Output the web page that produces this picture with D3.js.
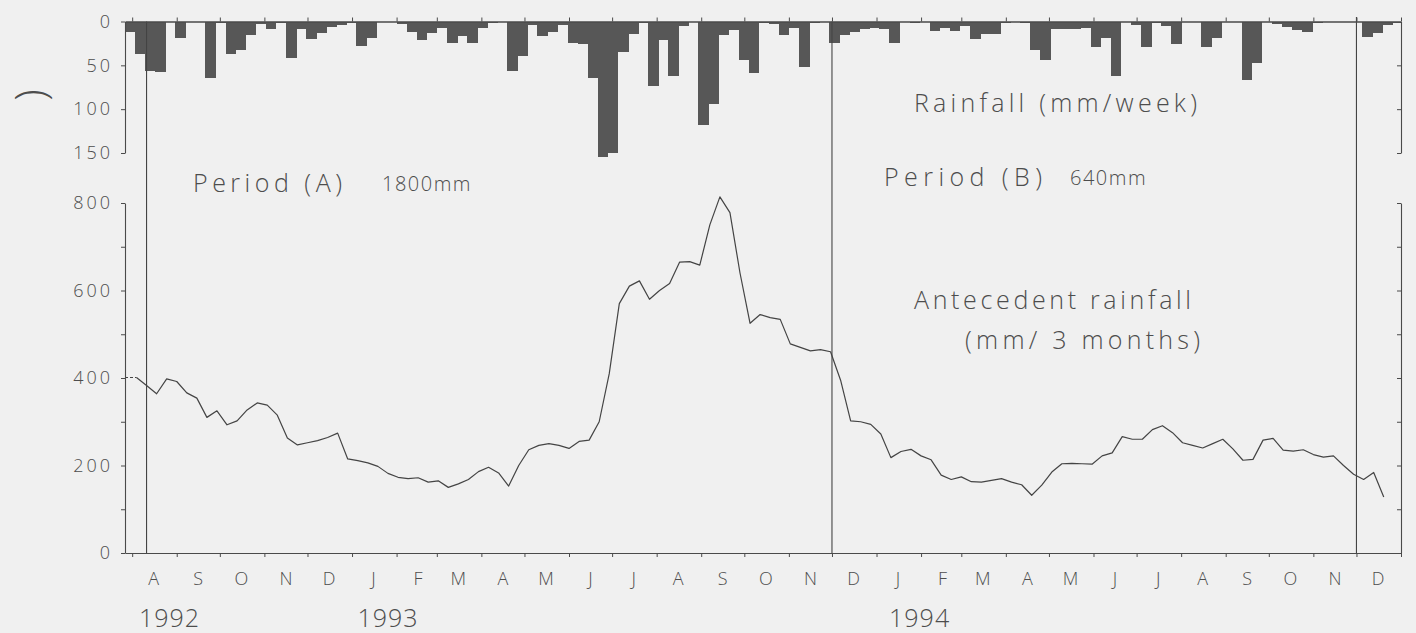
<!DOCTYPE html>
<html><head><meta charset="utf-8">
<script src="https://cdn.jsdelivr.net/npm/d3@7"></script>
<style>
html,body{margin:0;padding:0;background:#f0f0f0;}
svg{display:block;}
text{font-family:"Open Sans",Lato,"DejaVu Sans",sans-serif;font-weight:300;fill:#4d4d4d;}
</style></head><body>
<svg id="c" width="1416" height="633"></svg>
<script>
// Weekly rainfall (mm/week), weeks starting 27 Jul 1992
const weeklyRain = [12,37,57,58,0,19,1,1,64,2,37,33,15,3,8,2,42,8,20,13,6,4,2,28,19,1,0,3,12,21,
  13,7,25,17,25,7,2,1,57,39,4,16,12,4,25,26,64,154,150,35,14,2,74,21,62,5,1,118,94,15,
  10,44,59,2,3,15,7,52,2,0,24,15,12,9,7,8,24,1,2,1,11,7,11,5,20,14,14,2,1,2,
  32,44,8,9,9,7,29,19,62,1,4,29,2,5,26,1,1,29,19,1,1,67,47,1,3,6,10,12,2,1,
  1,1,1,18,13,4,2];
// Antecedent rainfall (mm / 3 months), weekly values from 28 Jul 1992
const antecedent = [401,401,383,364,398,392,366,354,310,325,293,302,327,343,338,315,263,247,252,257,
  264,274,215,211,206,198,182,173,170,172,162,165,150,158,168,186,196,183,153,200,
  236,246,250,246,239,255,258,300,410,570,610,622,580,600,616,665,666,658,750,814,
  778,640,525,545,538,534,478,470,462,465,460,395,302,300,294,272,218,232,237,222,
  213,178,168,174,163,162,166,170,162,156,132,155,185,204,205,204,203,222,229,266,
  260,260,282,291,275,252,246,240,250,260,238,212,214,258,262,235,233,236,225,219,
  222,200,180,168,184,128];
const monthLabels = ["A","S","O","N","D","J","F","M","A","M","J","J","A","S","O","N",
  "D","J","F","M","A","M","J","J","A","S","O","N","D"];
const yearLabels = ["1992","1993","1994"];
const yearDates = [new Date(1992,7,27), new Date(1993,0,26), new Date(1994,0,31)];
const barTicks = [0,50,100,150];
const lineTicks = [0,100,200,300,400,500,600,700,800];
const lineLabelTicks = [0,200,400,600,800];
const periodMarks = [new Date(1992,7,11), new Date(1993,11,1), new Date(1994,11,1)];

const svg = d3.select("#c");
const W = 1416, H = 633;
svg.append("rect").attr("width",W).attr("height",H).attr("fill","#f0f0f0");

const t0 = new Date(1992,6,27), t1 = new Date(1995,0,1);
const x = d3.scaleTime().domain([t0,t1]).range([125,1401]);
const yBar = d3.scaleLinear().domain([0,150]).range([21.5,153]);
const yLine = d3.scaleLinear().domain([0,800]).range([553,203]);
const DAY = 864e5;
const ink = "#4a4a4a";
const FONT = "Open Sans, Lato, DejaVu Sans, sans-serif";

svg.append("clipPath").attr("id","plot").append("rect")
  .attr("x",125).attr("y",0).attr("width",1276).attr("height",H);

// bars
const barStart = i => new Date(t0.getTime() + i*7*DAY);
svg.append("g").attr("clip-path","url(#plot)")
  .selectAll("rect").data(weeklyRain).join("rect")
  .attr("x", (d,i) => x(barStart(i)))
  .attr("width", (d,i) => x(barStart(i+1)) - x(barStart(i)) + 0.6)
  .attr("y", yBar(0))
  .attr("height", d => yBar(d) - yBar(0))
  .attr("fill","#575757")
  .attr("shape-rendering","crispEdges");

// line
const lineStart = new Date(1992,6,27);
const pts = antecedent.map((v,i) => [new Date(lineStart.getTime() + (i === 0 ? 0 : i*7+1)*DAY), v]);
const lineGen = d3.line().x(d => x(d[0])).y(d => yLine(d[1]));
svg.append("path").datum(pts.slice(1)).attr("d", lineGen)
  .attr("fill","none").attr("stroke","#444").attr("stroke-width",1.2).attr("stroke-linejoin","round");
svg.append("path").datum(pts.slice(0,2)).attr("d", lineGen)
  .attr("fill","none").attr("stroke","#444").attr("stroke-width",1.1).attr("stroke-dasharray","3,2");

// period lines
svg.append("g").selectAll("line").data(periodMarks).join("line")
  .attr("x1", d => x(d)).attr("x2", d => x(d))
  .attr("y1", (d,i) => i===2 ? 17 : yBar(0)).attr("y2", yLine(0))
  .attr("stroke","#444").attr("stroke-width",1.1);

function styleAxis(g){
  g.select(".domain").attr("stroke",ink).attr("stroke-width",1.1);
  g.selectAll(".tick line").attr("stroke",ink).attr("stroke-width",1);
  g.selectAll(".tick text").attr("font-family",FONT)
    .attr("font-weight",300).attr("font-size",18).attr("fill","#555")
    .attr("letter-spacing",3);
}

const gBarL = svg.append("g").attr("transform","translate(125,0)")
  .call(d3.axisLeft(yBar).tickValues(barTicks).tickSize(4).tickSizeOuter(0).tickPadding(8));
styleAxis(gBarL);
const gLineL = svg.append("g").attr("transform","translate(125,0)")
  .call(d3.axisLeft(yLine).tickValues(lineTicks).tickSize(4).tickSizeOuter(0).tickPadding(8)
    .tickFormat(d => lineLabelTicks.includes(d) ? d : ""));
styleAxis(gLineL);

const gBarR = svg.append("g").attr("transform","translate(1401,0)")
  .call(d3.axisLeft(yBar).tickValues(barTicks.slice(1)).tickSize(4).tickSizeOuter(0).tickFormat(""));
styleAxis(gBarR);
const gLineR = svg.append("g").attr("transform","translate(1401,0)")
  .call(d3.axisLeft(yLine).tickValues(lineTicks).tickSize(4).tickSizeOuter(0).tickFormat(""));
styleAxis(gLineR);

const monthTicks = d3.timeMonth.range(new Date(1992,7,1), new Date(1995,0,2));
const gX = svg.append("g").attr("transform",`translate(0,${yLine(0)})`)
  .call(d3.axisBottom(x).tickValues(monthTicks).tickSize(4).tickSizeOuter(0).tickFormat(""));
styleAxis(gX);
const gXT = svg.append("g").attr("transform",`translate(0,${yBar(0)})`)
  .call(d3.axisTop(x).tickValues(monthTicks).tickSize(4).tickSizeOuter(0).tickFormat(""));
styleAxis(gXT);
gXT.select(".domain").attr("stroke-width",1.4);

svg.append("g").selectAll("text").data(monthLabels).join("text")
  .attr("x",(d,i) => x(new Date(1992,7+i,16)))
  .attr("y",585)
  .attr("text-anchor","middle")
  .attr("font-size",18).attr("fill","#666")
  .text(d => d);

svg.append("g").selectAll("text").data(yearLabels).join("text")
  .attr("x",(d,i) => x(yearDates[i]))
  .attr("y",627)
  .attr("text-anchor","middle")
  .attr("font-size",25).attr("letter-spacing",1).attr("fill","#444")
  .text(d => d);

svg.append("text").attr("transform","translate(28,95) rotate(-90)")
  .attr("text-anchor","middle").attr("dominant-baseline","central")
  .attr("font-size",42).attr("font-weight",300).attr("fill","#444").text(")");

function note(txt, x0, y0, size, len){
  const t = svg.append("text").attr("x",x0).attr("y",y0).attr("font-size",size)
    .attr("fill","#4a4a4a").text(txt);
  if (len) t.attr("textLength",len).attr("lengthAdjust","spacing");
  else t.attr("letter-spacing",1.5);
}
note("Period (A)",193,192,25,149);
note("1800mm",382,191,20);
note("Period (B)",884,186,25,158);
note("640mm",1070,185,20);
note("Rainfall (mm/week)",914,112,25,283);
note("Antecedent rainfall",914,309,25,277);
note("(mm/ 3 months)",965,349,25,235);
</script>
</body></html>
